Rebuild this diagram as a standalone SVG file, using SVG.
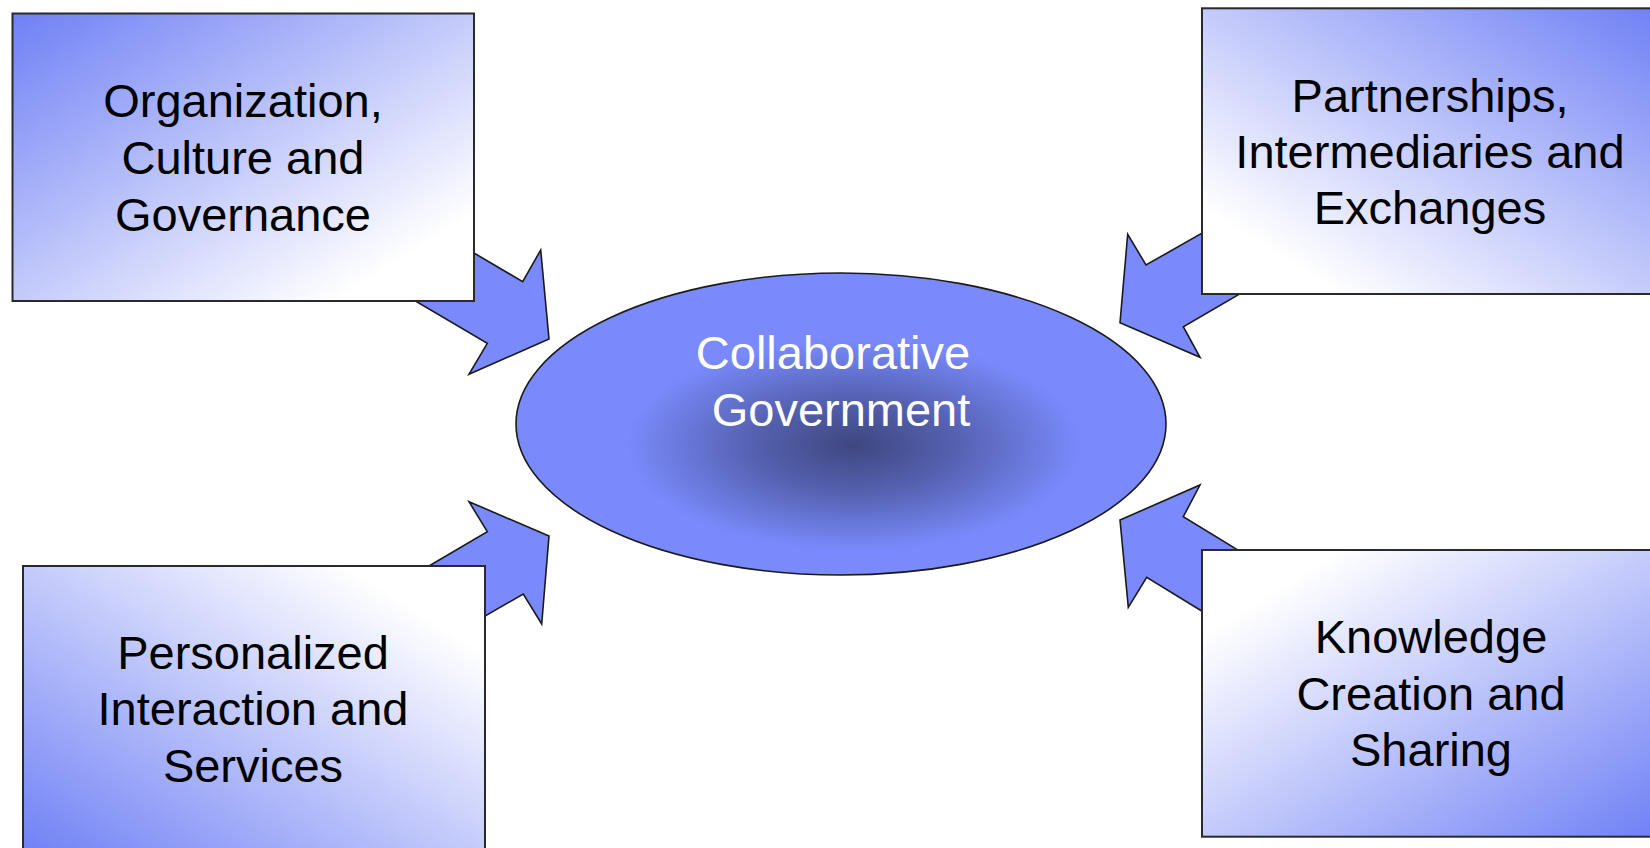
<svg xmlns="http://www.w3.org/2000/svg" width="1650" height="848" viewBox="0 0 1650 848">
<style>
.box{stroke:#2a2a2a;stroke-width:2}
.arrow{fill:#7A8AFC;stroke:#1a1a1a;stroke-width:1.6;stroke-linejoin:miter}
.lbl{font-family:"Liberation Sans",Arial,sans-serif;font-size:47px;fill:#000;text-anchor:middle}
.center{font-family:"Liberation Sans",Arial,sans-serif;font-size:47px;fill:#fff;text-anchor:middle}
</style>
<defs>
<linearGradient id="gTL" x1="0" y1="0" x2="1" y2="1"><stop offset="0" stop-color="#6F80F5"/><stop offset="0.85" stop-color="#fff"/></linearGradient>
<linearGradient id="gTR" x1="1" y1="0" x2="0" y2="1"><stop offset="0" stop-color="#6F80F5"/><stop offset="0.85" stop-color="#fff"/></linearGradient>
<linearGradient id="gBL" x1="0" y1="1" x2="1" y2="0"><stop offset="0" stop-color="#6F80F5"/><stop offset="0.85" stop-color="#fff"/></linearGradient>
<linearGradient id="gBR" x1="1" y1="1" x2="0" y2="0"><stop offset="0" stop-color="#6F80F5"/><stop offset="0.85" stop-color="#fff"/></linearGradient>
<radialGradient id="gE" cx="0.52" cy="0.57" r="0.5"><stop offset="0" stop-color="#3F4780"/><stop offset="0.3" stop-color="#5360AE"/><stop offset="0.7" stop-color="#7A8AFC"/><stop offset="1" stop-color="#7A8AFC"/></radialGradient>
</defs>
<rect width="1650" height="848" fill="#fff"/>
<g id="connectors">
<polygon class="arrow" points="400,209.4 522.7,281.7 540.7,250 549,339 469,374.3 487.3,343.3 364,270.6"/>
<polygon class="arrow" points="1260,200.1 1146,265 1127.7,234.3 1120,322.7 1200,357.3 1183.3,326.7 1295,261.8"/>
<polygon class="arrow" points="383.9,592.5 487.3,531.7 469,501.7 549,536 541.7,624 523.3,594 419.9,653.7"/>
<polygon class="arrow" points="1285.7,579.2 1183.3,516.7 1200,485 1120,520 1128.3,607.3 1146.7,577.3 1248.7,639.8"/>
</g>
<g id="center">
<ellipse cx="841" cy="424" rx="325" ry="151" fill="url(#gE)" stroke="#1a1a1a" stroke-width="1.6"/>
<text class="center" x="833" y="369">Collaborative</text>
<text class="center" x="841" y="426">Government</text>
</g>
<g id="org">
<rect class="box" x="12.5" y="13.5" width="461.5" height="287.5" fill="url(#gTL)"/>
<text class="lbl" x="243" y="117">Organization,</text>
<text class="lbl" x="243" y="174">Culture and</text>
<text class="lbl" x="243" y="231">Governance</text>
</g>
<g id="partner">
<rect class="box" x="1202" y="8.3" width="458" height="285.7" fill="url(#gTR)"/>
<text class="lbl" x="1430" y="112">Partnerships,</text>
<text class="lbl" x="1430" y="168">Intermediaries and</text>
<text class="lbl" x="1430" y="224">Exchanges</text>
</g>
<g id="personal">
<rect class="box" x="23" y="566" width="462" height="290" fill="url(#gBL)"/>
<text class="lbl" x="253" y="669">Personalized</text>
<text class="lbl" x="253" y="725">Interaction and</text>
<text class="lbl" x="253" y="782">Services</text>
</g>
<g id="knowledge">
<rect class="box" x="1202" y="550" width="458" height="286.7" fill="url(#gBR)"/>
<text class="lbl" x="1431" y="653">Knowledge</text>
<text class="lbl" x="1431" y="710">Creation and</text>
<text class="lbl" x="1431" y="766">Sharing</text>
</g>
</svg>
